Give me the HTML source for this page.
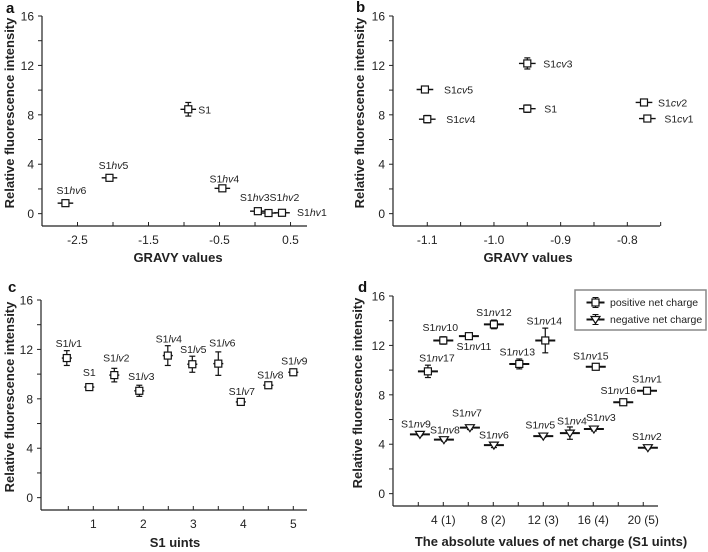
<!DOCTYPE html>
<html><head><meta charset="utf-8"><style>
body{margin:0;background:#fff;}
svg{display:block;font-family:"Liberation Sans",sans-serif;}
</style></head><body>
<svg id="fig" width="708" height="552" viewBox="0 0 708 552"></svg>
<script>
// ---- Panel a data ----
const aNames = ["S1hv6","S1hv5","S1","S1hv4","S1hv3","S1hv2","S1hv1"];
const aX = [-2.67,-2.05,-0.94,-0.46,0.04,0.19,0.38];
const aY = [0.85,2.9,8.45,2.05,0.2,0.05,0.07];
const aYerr = [0.15,0.25,0.55,0.12,0.1,0.08,0.08];
const aXTicks = [-2.5,-1.5,-0.5,0.5];
// ---- Panel b data ----
const bNames = ["S1cv5","S1cv4","S1cv3","S1","S1cv2","S1cv1"];
const bX = [-1.1035,-1.1,-0.95,-0.95,-0.775,-0.77];
const bY = [10.05,7.65,12.16,8.5,9.0,7.7];
const bYerr = [0.15,0.3,0.45,0.3,0.12,0.15];
const bXTicks = [-1.1,-1.0,-0.9,-0.8];
// ---- Panel c data ----
const cNames = ["S1lv1","S1","S1lv2","S1lv3","S1lv4","S1lv5","S1lv6","S1lv7","S1lv8","S1lv9"];
const cX = [0.47,0.92,1.42,1.92,2.49,2.98,3.5,3.95,4.5,5.0];
const cY = [11.3,8.95,9.92,8.65,11.5,10.8,10.85,7.75,9.1,10.15];
const cYerr = [0.6,0.15,0.55,0.45,0.8,0.65,0.95,0.2,0.15,0.2];
const cXTicks = [1,2,3,4,5];
// ---- Panel d data ----
const dPosNames = ["S1nv17","S1nv10","S1nv11","S1nv12","S1nv13","S1nv14","S1nv15","S1nv16","S1nv1"];
const dPosX = [2.77,4.0,6.05,8.05,10.08,12.16,16.2,18.4,20.3];
const dPosY = [9.9,12.4,12.75,13.7,10.5,12.4,10.27,7.4,8.33];
const dPosYerr = [0.5,0.3,0.2,0.35,0.4,1.0,0.1,0.1,0.15];
const dNegNames = ["S1nv9","S1nv8","S1nv7","S1nv6","S1nv5","S1nv4","S1nv3","S1nv2"];
const dNegX = [2.13,4.05,6.13,8.05,12.0,14.13,16.05,20.37];
const dNegY = [4.8,4.37,5.34,3.93,4.66,4.9,5.23,3.72];
const dNegYerr = [0.1,0.12,0.15,0.2,0.1,0.5,0.15,0.1];
const dXTicks = [4,8,12,16,20];
const dXTickLabels = ["4 (1)","8 (2)","12 (3)","16 (4)","20 (5)"];
const yTicks = [0,4,8,12,16];

// label offsets (layout only)
const aOff = [[6,-9,"middle"],[4,-9,"middle"],[10,4,"start"],[2,-6,"middle"],[-18,-10,"start"],[1,-12,"start"],[15,3,"start"]];
const bOff = [[19,4,"start"],[19,4,"start"],[16,4,"start"],[17,4,"start"],[14,4,"start"],[17,4,"start"]];
const cOff = [[2,-11],[0,-11],[2,-13.5],[2,-11],[1,-13],[1,-11],[4,-17],[1,-7],[2,-6.5],[1,-8]];
const dPosOff = [[9,-10],[-3,-9.5],[5,14],[0,-8.5],[-2,-8.5],[-1,-16],[-5,-7.5],[-5,-8],[0,-8]];
const dNegOff = [[-4,-7],[1,-6],[-3,-11],[0,-6.5],[-3,-7.5],[2,-8.5],[7,-8],[-1,-7.5]];

const NS="http://www.w3.org/2000/svg";
const svg=document.getElementById('fig');
function mk(tag,attrs,parent){const e=document.createElementNS(NS,tag);for(const k in attrs)e.setAttribute(k,attrs[k]);(parent||svg).appendChild(e);return e;}
function scale(d0,d1,r0,r1){return v=>r0+(v-d0)/(d1-d0)*(r1-r0);}
function labelText(g,name,x,y,anchor){
  const t=mk('text',{x:x,y:y,'text-anchor':anchor,'font-size':10.5,fill:'#222'},g);
  
  
  const m=name.match(/^S1([a-z]+)(\d+)$/);
  if(m){const a=document.createElementNS(NS,'tspan');a.textContent='S1';t.appendChild(a);
    const b=document.createElementNS(NS,'tspan');b.setAttribute('font-style','italic');b.textContent=m[1];t.appendChild(b);
    const c=document.createElementNS(NS,'tspan');c.textContent=m[2];t.appendChild(c);}
  else t.textContent=name;
}
function axes(p){
  const g=mk('g',{});
  
  
  mk('line',{x1:p.x0,y1:p.yt,x2:p.x0,y2:p.yb,stroke:'#222','stroke-width':1.2},g);
  mk('line',{x1:p.x0,y1:p.yb,x2:p.x1,y2:p.yb,stroke:'#222','stroke-width':1.2},g);
  for(let v=0;v<=16;v+=2){const y=p.sy(v);mk('line',{x1:p.x0-4,y1:y,x2:p.x0,y2:y,stroke:'#222'},g);}
  yTicks.forEach(v=>{const t=mk('text',{x:p.x0-8,y:p.sy(v)+4.5,'text-anchor':'end','font-size':12,fill:'#222'},g);t.textContent=v;});
  p.minor.forEach(v=>{const x=p.sx(v);mk('line',{x1:x,y1:p.yb-4,x2:x,y2:p.yb,stroke:'#222'},g);});
  p.xt.forEach((v,i)=>{const t=mk('text',{x:p.sx(v),y:p.yb+18,'text-anchor':'middle','font-size':12,fill:'#222'},g);t.textContent=p.xl?p.xl[i]:(v.toFixed(1));});
  const xt=mk('text',{x:p.xtx,y:p.xty,'text-anchor':'middle','font-size':13,'font-weight':'bold',fill:'#222'},g);xt.textContent=p.xtitle;
  
  const yt=mk('text',{x:0,y:0,transform:`translate(${p.ytx},${(p.yt+p.yb)/2-8}) rotate(-90)`,'text-anchor':'middle','font-size':13,'font-weight':'bold',fill:'#222'},g);yt.textContent='Relative fluorescence intensity';
  
  const lt=mk('text',{x:p.lx,y:p.ly,'font-size':15,'font-weight':'bold',fill:'#111'},g);lt.textContent=p.id;
  
}
function points(p,names,X,Y,E,xerr,off,shape,lw){
  names.forEach((n,i)=>{
    const g=mk('g',{});
    
    
    const x=p.sx(X[i]),y=p.sy(Y[i]);
    const xl=p.sx(X[i]-xerr),xr=p.sx(X[i]+xerr);
    mk('line',{x1:xl,y1:y,x2:xr,y2:y,stroke:'#111','stroke-width':lw},g);
    const y1=p.sy(Y[i]+E[i]),y2=p.sy(Y[i]-E[i]);
    mk('line',{x1:x,y1:y1,x2:x,y2:y2,stroke:'#111','stroke-width':1.2},g);
    mk('line',{x1:x-3,y1:y1,x2:x+3,y2:y1,stroke:'#111','stroke-width':1.2},g);
    mk('line',{x1:x-3,y1:y2,x2:x+3,y2:y2,stroke:'#111','stroke-width':1.2},g);
    if(shape==='sq')mk('rect',{x:x-3.5,y:y-3.5,width:7,height:7,fill:'#fff',stroke:'#111','stroke-width':1.2},g);
    else mk('path',{d:`M${x-4.5},${y-3}L${x+4.5},${y-3}L${x},${y+4}Z`,fill:'#fff',stroke:'#111','stroke-width':1.2},g);
    const o=off[i];
    labelText(g,n,x+o[0],y+o[1],o[2]||'middle');
  });
}
function range(a,b,s){const r=[];for(let v=a;v<=b+1e-9;v+=s)r.push(+v.toFixed(4));return r;}
const PA={id:'a',x0:42,x1:307,yt:16,yb:226,sx:scale(-3,0.732,42,307),sy:scale(-1,16,226,16),minor:range(-2.5,0.5,0.5),xt:aXTicks,xtitle:'GRAVY values',xtx:178,xty:262,ytx:14,lx:6,ly:13};
const PB={id:'b',x0:393,x1:660,yt:16,yb:226,sx:scale(-1.1514,-0.751,393,660),sy:scale(-1,16,226,16),minor:range(-1.1,-0.75,0.05),xt:bXTicks,xtitle:'GRAVY values',xtx:528,xty:262,ytx:364,lx:356,ly:12};
const PC={id:'c',x0:41,x1:307,yt:300,yb:510,sx:scale(-0.046,5.274,41,307),sy:scale(-1,16,510,300),minor:range(0.5,5,0.5),xt:cXTicks,xl:cXTicks.map(String),xtitle:'S1 uints',xtx:175,xty:547,ytx:14,lx:8,ly:292};
const PD={id:'d',x0:393,x1:658,yt:296,yb:506,sx:scale(-0.0,21.18,393.3,658),sy:scale(-1,16,506,296),minor:range(2,20,2),xt:dXTicks,xl:dXTickLabels,xtitle:'The absolute values of net charge (S1 uints)',xtx:551,xty:546,ytx:362,lx:358,ly:292};
[PA,PB,PC,PD].forEach(axes);
points(PA,aNames,aX,aY,aYerr,0.11,aOff,'sq',1.4);
points(PB,bNames,bX,bY,bYerr,0.0125,bOff,'sq',1.4);
points(PC,cNames,cX,cY,cYerr,0.1,cOff,'sq',1.4);
points(PD,dPosNames,dPosX,dPosY,dPosYerr,0.8,dPosOff,'sq',2);
points(PD,dNegNames,dNegX,dNegY,dNegYerr,0.8,dNegOff,'tri',2);
// legend
const lg=mk('g',{});


mk('rect',{x:575,y:290,width:131,height:40,fill:'#fff',stroke:'#888','stroke-width':1.5},lg);
[[302.5,'sq','positive net charge'],[319.5,'tri','negative net charge']].forEach(([y,s,t])=>{
  const e=mk('g',{},lg);
  
  
  const x=595.5;
  mk('line',{x1:x-9,y1:y,x2:x+9,y2:y,stroke:'#111','stroke-width':2},e);
  mk('line',{x1:x,y1:y-5,x2:x,y2:y+5,stroke:'#111','stroke-width':1.2},e);
  mk('line',{x1:x-3,y1:y-5,x2:x+3,y2:y-5,stroke:'#111'},e);
  mk('line',{x1:x-3,y1:y+5,x2:x+3,y2:y+5,stroke:'#111'},e);
  if(s==='sq')mk('rect',{x:x-3.5,y:y-3.5,width:7,height:7,fill:'#fff',stroke:'#111','stroke-width':1.2},e);
  else mk('path',{d:`M${x-4.5},${y-3}L${x+4.5},${y-3}L${x},${y+4}Z`,fill:'#fff',stroke:'#111','stroke-width':1.2},e);
  const tx=mk('text',{x:610,y:y+3.5,'font-size':10.5,fill:'#222'},e);tx.textContent=t;
});
</script>
</body></html>
